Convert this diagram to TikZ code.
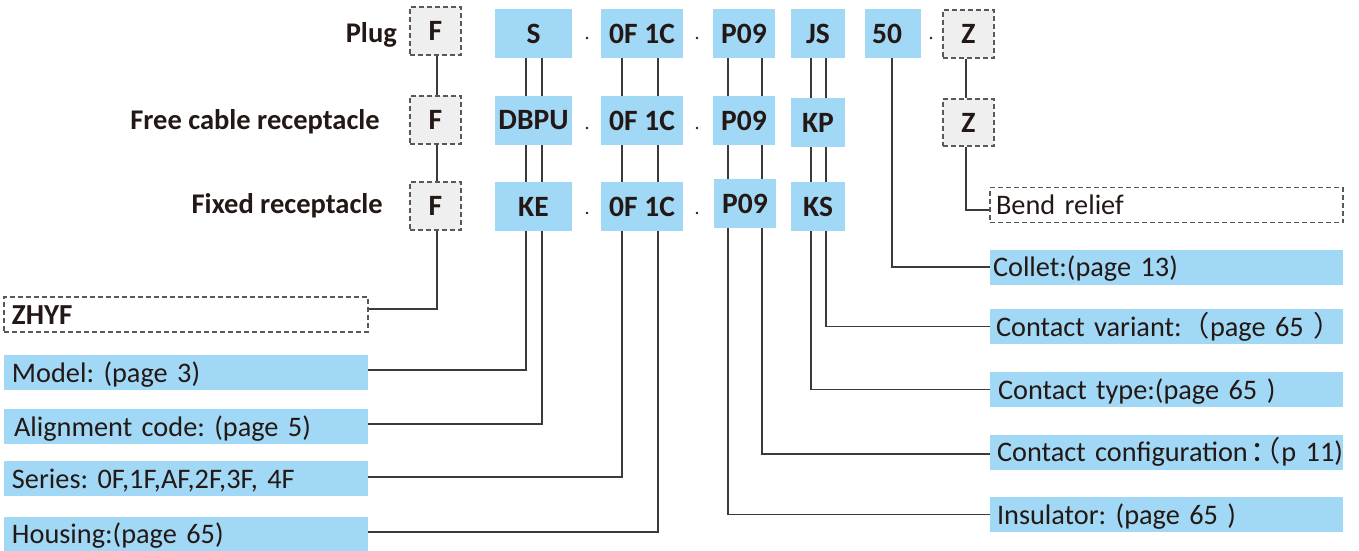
\documentclass[tikz,border=0pt]{standalone}
\usepackage{fontspec}
\setmainfont{Carlito}
\newfontfamily\cjk{Noto Sans CJK SC}
\frenchspacing
\definecolor{bluefill}{RGB}{160,216,245}
\definecolor{grayfill}{RGB}{239,239,239}
\definecolor{dashc}{RGB}{89,87,87}
\definecolor{linec}{RGB}{62,58,57}
\definecolor{txt}{RGB}{35,24,21}
\tikzset{
  codebox/.style={fill=bluefill, inner sep=0pt, text=txt, font=\fontsize{29.5}{29.5}\selectfont\bfseries},
  optbox/.style={fill=grayfill, draw=dashc, dash pattern=on 5pt off 3pt, line width=1.1pt, inner sep=0pt, text=txt, font=\fontsize{29.5}{29.5}\selectfont\bfseries},
  rowlabel/.style={inner sep=0pt, text=txt, font=\fontsize{28.5}{28.5}\selectfont\bfseries},
  descL/.style={fill=bluefill, inner ysep=0pt, inner xsep=8pt, text width=348pt, minimum height=35pt, align=left, text height=24pt, text depth=5pt, text=txt, font=\fontsize{28.3}{28.3}\selectfont\frenchspacing},
  descR/.style={fill=bluefill, inner ysep=0pt, inner xsep=6pt, text width=341pt, minimum height=35pt, align=left, text height=24pt, text depth=5pt, text=txt, font=\fontsize{28.3}{28.3}\selectfont\frenchspacing},
  dashL/.style={descL, fill=white, draw=dashc, dash pattern=on 5pt off 3pt, line width=1.1pt},
  dashR/.style={descR, fill=white, draw=dashc, dash pattern=on 5pt off 3pt, line width=1.1pt},
  conn/.style={draw=linec, line width=1.5pt},
  sep/.style={circle, fill=txt, inner sep=0pt, minimum size=2.8pt}
}
\begin{document}
\begin{tikzpicture}[x=1pt,y=-1pt]
\useasboundingbox (0,0) rectangle (1359,551);
% row labels
\node[rowlabel, anchor=base east] (lplug) at (397,43) {Plug};
\node[rowlabel, anchor=base east] (lfree) at (380,129) {Free cable receptacle};
\node[rowlabel, anchor=base east] (lfixed) at (383,213) {Fixed receptacle};
% row 1
\node[optbox, minimum width=51pt, minimum height=48pt] (F1) at (435.5,31) {F};
\node[codebox, minimum width=77pt, minimum height=49pt] (S) at (533.5,33.5) {S};
\node[codebox, minimum width=82pt, minimum height=49pt] (O1) at (642,33.5) {0F 1C};
\node[codebox, minimum width=62pt, minimum height=49pt] (P1) at (744,33.5) {P09};
\node[codebox, minimum width=54pt, minimum height=49pt] (JS) at (818,33.5) {JS};
\node[codebox, minimum width=56pt, minimum height=49pt] (N50) at (893,33.5) {\hspace*{-12pt}50};
\node[optbox, minimum width=51pt, minimum height=48pt] (Z1) at (968.5,34) {Z};
% row 2
\node[optbox, minimum width=51pt, minimum height=48pt] (F2) at (435.5,120) {F};
\node[codebox, minimum width=77pt, minimum height=49pt] (DBPU) at (533.5,120.5) {DBPU};
\node[codebox, minimum width=82pt, minimum height=49pt] (O2) at (642,120.5) {0F 1C};
\node[codebox, minimum width=62pt, minimum height=49pt] (P2) at (744,120.5) {P09};
\node[codebox, minimum width=54pt, minimum height=49pt] (KP) at (818,122.5) {KP};
\node[optbox, minimum width=51pt, minimum height=47pt] (Z2) at (968.5,122.5) {Z};
% row 3
\node[optbox, minimum width=51pt, minimum height=48pt] (F3) at (435.5,206) {F};
\node[codebox, minimum width=77pt, minimum height=49pt] (KE) at (533.5,206.5) {KE};
\node[codebox, minimum width=82pt, minimum height=49pt] (O3) at (642,206.5) {0F 1C};
\node[codebox, minimum width=62pt, minimum height=49pt] (P3) at (745,203.5) {P09};
\node[codebox, minimum width=54pt, minimum height=49pt] (KS) at (818,206.5) {KS};
% separators
\node[sep] (d1) at (587,38) {};
\node[sep] (d2) at (697,38) {};
\node[sep] (d3) at (931,38) {};
\node[sep] (d4) at (587,128) {};
\node[sep] (d5) at (697,128) {};
\node[sep] (d6) at (587,213) {};
\node[sep] (d7) at (697,213) {};
% left descriptions
\node[dashL] (zhyf) at (186,314.5) {\fontsize{29}{29}\selectfont\textbf{ZHYF}};
\node[descL] (model) at (186,372.5) {Model: (page 3)};
\node[descL] (align) at (186,426.5) {\hspace*{2pt}Alignment code: (page 5)};
\node[descL] (series) at (186,478.5) {Series: 0F,1F,AF,2F,3F, 4F};
\node[descL] (housing) at (186,534) {Housing:(page 65)};
% right descriptions
\node[dashR] (bend) at (1166.5,205) {Bend relief};
\node[descR] (collet) at (1166.5,267) {\hspace*{-3pt}Collet:(page 13)};
\node[descR] (variant) at (1166.5,326.5) {\mbox{Contact variant:{\cjk （}page 65 {\cjk ）}}};
\node[descR] (ctype) at (1166.5,389.5) {\hspace*{2pt}Contact type:(page 65 )};
\node[descR] (config) at (1166.5,452) {\mbox{\hspace*{1pt}Contact configuration\kern3pt{\cjk ：}\kern-27pt{\cjk （}\kern1pt p 11)}};
\node[descR] (insul) at (1166.5,514.5) {\hspace*{1pt}Insulator: (page 65 )};
% column x positions
\coordinate (xF) at (437,0);
\coordinate (xS1) at (526,0);
\coordinate (xS2) at (542,0);
\coordinate (xO1) at (622,0);
\coordinate (xO2) at (658,0);
\coordinate (xP1) at (728,0);
\coordinate (xP2) at (762,0);
\coordinate (xJ1) at (811,0);
\coordinate (xJ2) at (826,0);
\coordinate (x50) at (892,0);
\coordinate (xZ) at (966,0);
% connectors between rows
\draw[conn] (F1.south -| xF) -- (F2.north -| xF);
\draw[conn] (F2.south -| xF) -- (F3.north -| xF);
\draw[conn] (S.south -| xS1) -- (DBPU.north -| xS1);
\draw[conn] (S.south -| xS2) -- (DBPU.north -| xS2);
\draw[conn] (DBPU.south -| xS1) -- (KE.north -| xS1);
\draw[conn] (DBPU.south -| xS2) -- (KE.north -| xS2);
\draw[conn] (O1.south -| xO1) -- (O2.north -| xO1);
\draw[conn] (O1.south -| xO2) -- (O2.north -| xO2);
\draw[conn] (O2.south -| xO1) -- (O3.north -| xO1);
\draw[conn] (O2.south -| xO2) -- (O3.north -| xO2);
\draw[conn] (P1.south -| xP1) -- (P2.north -| xP1);
\draw[conn] (P1.south -| xP2) -- (P2.north -| xP2);
\draw[conn] (P2.south -| xP1) -- (P3.north -| xP1);
\draw[conn] (P2.south -| xP2) -- (P3.north -| xP2);
\draw[conn] (JS.south -| xJ1) -- (KP.north -| xJ1);
\draw[conn] (JS.south -| xJ2) -- (KP.north -| xJ2);
\draw[conn] (KP.south -| xJ1) -- (KS.north -| xJ1);
\draw[conn] (KP.south -| xJ2) -- (KS.north -| xJ2);
\draw[conn] (Z1.south -| xZ) -- (Z2.north -| xZ);
% connectors to descriptions
\draw[conn] (F3.south -| xF) |- ([yshift=5.5pt]zhyf.east);
\draw[conn] (KE.south -| xS1) |- ([yshift=2.5pt]model.east);
\draw[conn] (KE.south -| xS2) |- ([yshift=2.5pt]align.east);
\draw[conn] (O3.south -| xO1) |- ([yshift=1.5pt]series.east);
\draw[conn] (O3.south -| xO2) |- ([yshift=2pt]housing.east);
\draw[conn] (P3.south -| xP1) |- (insul.west);
\draw[conn] (P3.south -| xP2) |- ([yshift=-2pt]config.west);
\draw[conn] (KS.south -| xJ1) |- (ctype.west);
\draw[conn] (KS.south -| xJ2) |- (variant.west);
\draw[conn] (N50.south -| x50) |- (collet.west);
\draw[conn] (Z2.south -| xZ) |- ([yshift=-5pt]bend.west);
\end{tikzpicture}
\end{document}
